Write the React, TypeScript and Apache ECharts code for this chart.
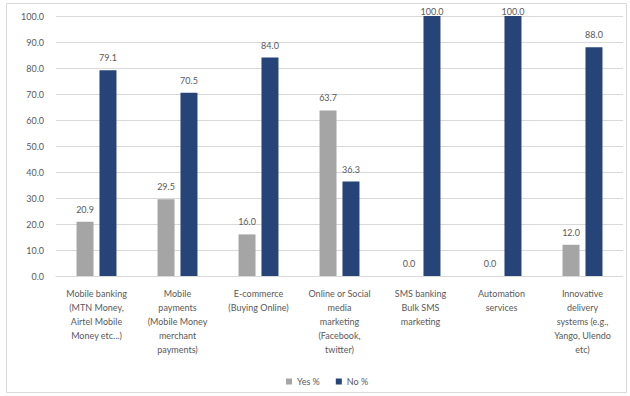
import React, { useEffect, useRef } from "react";
import * as echarts from "echarts";

const categories = [
  "Mobile banking\n(MTN Money,\nAirtel Mobile\nMoney etc...)",
  "Mobile\npayments\n(Mobile Money\nmerchant\npayments)",
  "E-commerce\n(Buying Online)",
  "Online or Social\nmedia\nmarketing\n(Facebook,\ntwitter)",
  "SMS banking\nBulk SMS\nmarketing",
  "Automation\nservices",
  "Innovative\ndelivery\nsystems (e.g.,\nYango, Ulendo\netc)",
];
const yesValues = [20.9, 29.5, 16.0, 63.7, 0.0, 0.0, 12.0];
const noValues = [79.1, 70.5, 84.0, 36.3, 100.0, 100.0, 88.0];
const seriesNames = ["Yes %", "No %"];

const FONT = "Lato, 'Open Sans', sans-serif";
const TXT = "#595959";

const toData = (vals: number[]) =>
  vals.map((v) => (v >= 100 ? { value: v, label: { distance: 0 } } : v));

export default function App() {
  const ref = useRef<HTMLDivElement>(null);
  useEffect(() => {
    const chart = echarts.init(ref.current!, null, { renderer: "svg" });
    const label = {
      show: true,
      position: "top" as const,
      distance: 8,
      color: TXT,
      fontSize: 9,
      fontFamily: FONT,
      formatter: (p: any) => Number(p.value).toFixed(1),
    };
    chart.setOption({
      animation: false,
      backgroundColor: "#ffffff",
      textStyle: { fontFamily: FONT },
      graphic: [
        {
          type: "rect",
          shape: { x: 6.5, y: 3.5, width: 620, height: 389 },
          style: { fill: "none", stroke: "#D9D9D9", lineWidth: 1 },
          silent: true,
        },
      ],
      grid: { left: 56, right: 7, top: 16, bottom: 120, containLabel: false },
      legend: {
        data: seriesNames,
        left: 281,
        top: 372,
        itemWidth: 6,
        itemHeight: 6,
        itemGap: 16,
        icon: "rect",
        textStyle: { color: TXT, fontSize: 9, fontFamily: FONT },
      },
      xAxis: {
        type: "category",
        data: categories,
        axisTick: { show: false },
        axisLine: { lineStyle: { color: "#D9D9D9" } },
        axisLabel: {
          interval: 0,
          color: TXT,
          fontSize: 9,
          fontFamily: FONT,
          lineHeight: 14,
          margin: 10,
        },
      },
      yAxis: {
        type: "value",
        min: 0,
        max: 100,
        interval: 10,
        axisLine: { show: false },
        axisTick: { show: false },
        splitLine: { lineStyle: { color: "#D9D9D9" } },
        axisLabel: {
          color: TXT,
          fontSize: 9,
          fontFamily: FONT,
          margin: 12,
          formatter: (v: number) => v.toFixed(1),
        },
      },
      series: [
        {
          name: seriesNames[0],
          type: "bar",
          data: toData(yesValues),
          itemStyle: { color: "#A5A5A5" },
          barWidth: 17,
          barGap: "35%",
          label,
        },
        {
          name: seriesNames[1],
          type: "bar",
          data: toData(noValues),
          itemStyle: { color: "#264478" },
          barWidth: 17,
          label,
        },
      ],
    });
    return () => chart.dispose();
  }, []);
  return (
    <div
      ref={ref}
      style={{ position: "fixed", left: 0, top: 0, width: 630, height: 396 }}
    />
  );
}
